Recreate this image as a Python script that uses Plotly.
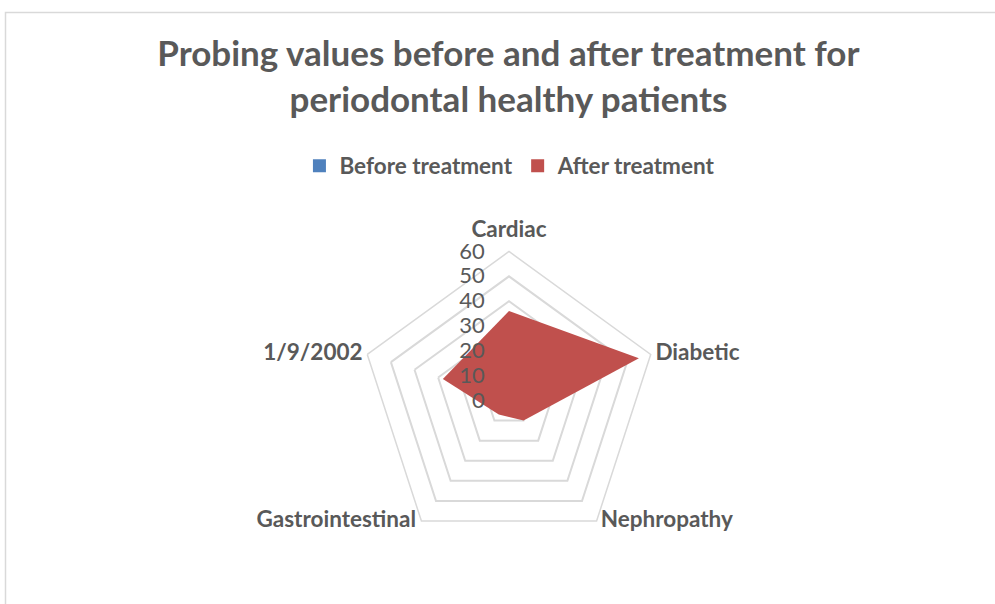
import plotly.graph_objects as go

categories = ["Cardiac", "Diabetic", "Nephropathy", "Gastrointestinal", "1/9/2002"]
before_values = [30, 50, 8, 5, 24]
after_values = [36, 55, 10, 7, 28]
series_names = ["Before treatment", "After treatment"]
series_colors = ["#4F81BD", "#C0504D"]
radial_ticks = [0, 10, 20, 30, 40, 50, 60]

# label placement (style only)
label_positions = ["top center", "middle right", "middle right", "middle left", "middle left"]
label_pads = [13, 6, 5, 7, 6]

FONT = "Lato"
GREY = "#595959"
RMAX = 60

fig = go.Figure()
for name, vals, col in zip(series_names, [before_values, after_values], series_colors):
    fig.add_trace(go.Scatterpolar(
        r=vals + vals[:1],
        theta=categories + categories[:1],
        name=name,
        mode="none",
        fill="toself",
        fillcolor=col,
        showlegend=False,
        hoverinfo="name+r+theta",
    ))
# category labels placed at the outer ring through the polar scales
fig.add_trace(go.Scatterpolar(
    r=[RMAX] * len(categories),
    theta=categories,
    mode="markers+text",
    text=categories,
    textposition=label_positions,
    marker=dict(size=label_pads, opacity=0, color="white"),
    textfont=dict(family=FONT, size=22.5, color=GREY, weight="bold"),
    cliponaxis=False,
    showlegend=False,
    hoverinfo="skip",
))
# legend entries (square swatches)
for name, col in zip(series_names, series_colors):
    fig.add_trace(go.Scatterpolar(
        r=[None], theta=[None], name=name, mode="markers",
        marker=dict(symbol="square", size=13, color=col),
        showlegend=True,
    ))

cx, cy, R = 509, 400.5, 149
W, H = 995, 604

fig.update_layout(
    width=W, height=H,
    margin=dict(l=0, r=0, t=0, b=0),
    paper_bgcolor="white",
    plot_bgcolor="white",
    font=dict(family=FONT, color=GREY),
    title=dict(
        text="<b>Probing values before and after treatment for<br>periodontal healthy patients</b>",
        x=0.511, xanchor="center",
        y=1 - 66 / H, yanchor="middle",
        font=dict(family=FONT, size=35, color=GREY),
    ),
    legend=dict(
        orientation="h",
        x=0.513, xanchor="center",
        y=1 - 166 / H, yanchor="middle",
        font=dict(family=FONT, size=22.5, color=GREY, weight="bold"),
        traceorder="normal",
        itemwidth=30,
    ),
    polar=dict(
        domain=dict(x=[(cx - R) / W, (cx + R) / W], y=[(H - cy - R) / H, (H - cy + R) / H]),
        bgcolor="white",
        gridshape="linear",
        radialaxis=dict(
            range=[0, RMAX],
            tickvals=radial_ticks,
            ticktext=[str(v) for v in radial_ticks],
            angle=90,
            tickangle=90,
            side="counterclockwise",
            showline=False,
            ticks="outside",
            ticklen=16,
            tickcolor="rgba(0,0,0,0)",
            showgrid=True,
            gridcolor="#d9d9d9",
            gridwidth=1.5,
            tickfont=dict(family=FONT, size=22, color=GREY),
            layer="above traces",
        ),
        angularaxis=dict(
            direction="clockwise",
            rotation=90,
            showgrid=False,
            showline=True,
            showticklabels=False,
            linecolor="#d9d9d9",
            linewidth=1.5,
            ticks="",
            categoryorder="array",
            categoryarray=categories,
        ),
    ),
    shapes=[dict(
        type="rect", xref="paper", yref="paper",
        x0=5.5 / W, x1=1.05, y0=-0.05, y1=1 - 12.5 / H,
        line=dict(color="#d9d9d9", width=1.5),
        fillcolor="rgba(0,0,0,0)",
    )],
)

fig.write_html(
    "out.html",
    config={"displayModeBar": False},
    post_script="document.body.style.margin='0';document.body.style.overflow='hidden';",
)
